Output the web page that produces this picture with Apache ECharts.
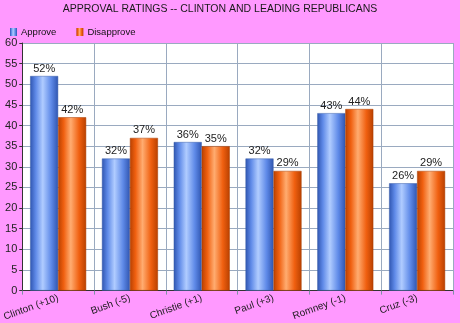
<!DOCTYPE html>
<html>
<head>
<meta charset="utf-8">
<script src="https://cdn.jsdelivr.net/npm/echarts@6/dist/echarts.min.js"></script>
<style>
  html, body { margin: 0; padding: 0; background: #ff99ff; }
  #chart { width: 460px; height: 323px; }
</style>
</head>
<body>
<div id="chart"></div>
<script>
const categories = ['Clinton (+10)', 'Bush (-5)', 'Christie (+1)', 'Paul (+3)', 'Romney (-1)', 'Cruz (-3)'];
const approve = [52, 32, 36, 32, 43, 26];
const disapprove = [42, 37, 35, 29, 44, 29];
const yTicks = { min: 0, max: 60, interval: 5 };

function barGradient(edge, mid, light) {
  return new echarts.graphic.LinearGradient(0, 0, 1, 0, [
    { offset: 0, color: edge },
    { offset: 0.2, color: mid },
    { offset: 0.45, color: light },
    { offset: 0.75, color: mid },
    { offset: 1, color: edge }
  ]);
}

const blue = barGradient('#2f55b0', '#5f8ae8', '#b0ccff');
const orange = barGradient('#b84000', '#f06010', '#ffac70');
const legendBlue = barGradient('#2f55b0', '#5f8ae8', '#b0ccff');
const legendOrange = barGradient('#b84000', '#f06010', '#ffac70');

const chart = echarts.init(document.getElementById('chart'));
chart.setOption({
  backgroundColor: '#ff99ff',
  animation: false,
  title: {
    text: 'APPROVAL RATINGS -- CLINTON AND LEADING REPUBLICANS',
    left: 215, textAlign: 'center', top: -1,
    textStyle: { fontFamily: 'Liberation Sans', fontSize: 10.5, fontWeight: 'normal', color: '#1a1a1a' }
  },
  legend: {
    left: 5, top: 22,
    itemWidth: 7, itemHeight: 8, itemGap: 20,
    icon: 'rect',
    textStyle: { fontFamily: 'Liberation Sans', fontSize: 9.5, color: '#111', padding: [0, 0, 0, -1] },
    data: [
      { name: 'Approve', itemStyle: { color: legendBlue, borderWidth: 0 } },
      { name: 'Disapprove', itemStyle: { color: legendOrange, borderWidth: 0 } }
    ]
  },
  grid: { left: 17, right: 7, top: 43, bottom: 30, containLabel: false,
    show: true, backgroundColor: '#ffffff', borderWidth: 0 },
  xAxis: {
    type: 'category',
    data: categories,
    axisLine: { lineStyle: { color: '#333', width: 1 } },
    axisTick: { show: true, alignWithLabel: false, length: 4, lineStyle: { color: '#8090a8' } },
    splitLine: { show: true, lineStyle: { color: '#9aaac0', width: 1 } },
    axisLabel: {
      interval: 0, rotate: 20, margin: 7,
      fontFamily: 'Liberation Sans', fontSize: 10, color: '#1a1a1a'
    }
  },
  yAxis: {
    type: 'value',
    min: yTicks.min, max: yTicks.max, interval: yTicks.interval,
    axisLine: { show: true, lineStyle: { color: '#333', width: 1 } },
    axisTick: { show: true, length: 3, lineStyle: { color: '#333' } },
    splitLine: { show: true, lineStyle: { color: '#9aaac0', width: 1 } },
    axisLabel: { margin: 5, fontFamily: 'Liberation Sans', fontSize: 11, color: '#222' }
  },
  series: [
    {
      name: 'Approve', type: 'bar', data: approve,
      barWidth: 28, barGap: '0%',
      itemStyle: { color: blue, borderColor: '#3a5ea8', borderWidth: 0.5 },
      label: { show: true, position: 'top', distance: 2, formatter: '{c}%',
        fontFamily: 'Liberation Sans', fontSize: 11, color: '#222' }
    },
    {
      name: 'Disapprove', type: 'bar', data: disapprove,
      barWidth: 28, barGap: '0%',
      itemStyle: { color: orange, borderColor: '#a83c00', borderWidth: 0.5 },
      label: { show: true, position: 'top', distance: 2, formatter: '{c}%',
        fontFamily: 'Liberation Sans', fontSize: 11, color: '#222' }
    }
  ]
});
</script>
</body>
</html>
